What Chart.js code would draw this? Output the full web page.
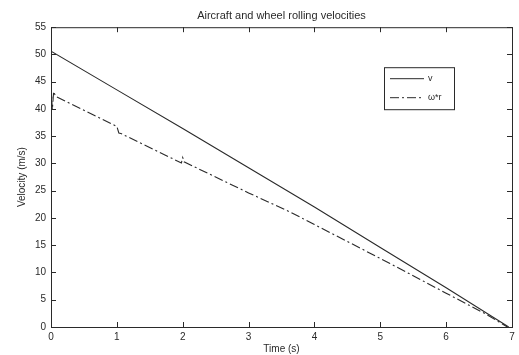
<!DOCTYPE html>
<html lang="en">
<head>
    <meta charset="UTF-8">
    <title>Aircraft and wheel rolling velocities</title>
    <script src="https://cdn.jsdelivr.net/npm/chart.js"></script>
    <style>
        html, body {
            margin: 0;
            padding: 0;
            background-color: white;
        }
        #wrap {
            width: 519px;
            height: 355px;
        }
    </style>
</head>
<body>
    <div id="wrap">
        <canvas id="velChart" width="519" height="355"></canvas>
    </div>

    <script>
        // aircraft velocity v (time s, m/s)
        const vTime = [0, 1, 2, 3, 4, 5, 6, 6.95];
        const vValues = [50.6, 43.5, 36.4, 29.2, 22.0, 14.6, 7.2, 0];

        // wheel rolling velocity w*r (time s, m/s)
        const wrTime = [0, 0.02, 0.04, 0.07, 1.0, 1.03, 1.06, 1.98, 2.0, 2.02, 3.0, 3.63, 4.0, 5.14, 6.0, 6.6, 6.93];
        const wrValues = [44.5, 39.8, 43.2, 42.3, 36.8, 35.6, 35.5, 30.1, 31.1, 30.3, 24.6, 21.1, 18.8, 11.7, 6.2, 2.4, 0];

        const xTicks = [0, 1, 2, 3, 4, 5, 6, 7];
        const yTicks = [0, 5, 10, 15, 20, 25, 30, 35, 40, 45, 50, 55];

        const ink = '#2a2a2a';
        const fontFamily = '"Liberation Sans", Arial, sans-serif';

        const toPoints = (xs, ys) => xs.map((x, i) => ({ x: x, y: ys[i] }));

        // box + inward ticks on all four sides, matlab style
        const boxTicks = {
            id: 'boxTicks',
            afterDraw(chart) {
                const { ctx, chartArea: a, scales } = chart;
                ctx.save();
                ctx.strokeStyle = ink;
                ctx.lineWidth = 1;
                ctx.strokeRect(a.left + 0.5, a.top + 0.5, a.right - a.left, a.bottom - a.top);
                ctx.beginPath();
                xTicks.forEach(t => {
                    const px = Math.round(scales.x.getPixelForValue(t)) + 0.5;
                    ctx.moveTo(px, a.bottom); ctx.lineTo(px, a.bottom - 5);
                    ctx.moveTo(px, a.top); ctx.lineTo(px, a.top + 5);
                });
                yTicks.forEach(t => {
                    const py = Math.round(scales.y.getPixelForValue(t)) + 0.5;
                    ctx.moveTo(a.left, py); ctx.lineTo(a.left + 5, py);
                    ctx.moveTo(a.right, py); ctx.lineTo(a.right - 5, py);
                });
                ctx.stroke();
                ctx.restore();
            }
        };

        // legend box inside the plot, upper right
        const boxLegend = {
            id: 'boxLegend',
            afterDraw(chart) {
                const { ctx, chartArea: a } = chart;
                const left = a.left + 333, top = a.top + 40, w = 70, h = 42;
                ctx.save();
                ctx.fillStyle = 'white';
                ctx.fillRect(left, top, w, h);
                ctx.strokeStyle = ink;
                ctx.lineWidth = 1;
                ctx.strokeRect(left + 0.5, top + 0.5, w, h);
                ctx.font = '9px ' + fontFamily;
                ctx.textBaseline = 'middle';
                chart.data.datasets.forEach((ds, i) => {
                    const y = top + 11.5 + i * 19;
                    ctx.beginPath();
                    ctx.setLineDash(ds.borderDash || []);
                    ctx.moveTo(left + 6, y);
                    ctx.lineTo(left + 40, y);
                    ctx.stroke();
                    ctx.setLineDash([]);
                    ctx.fillStyle = ink;
                    ctx.fillText(ds.label, left + 44, y);
                });
                ctx.restore();
            }
        };

        const ctx = document.getElementById('velChart').getContext('2d');
        new Chart(ctx, {
            type: 'line',
            data: {
                datasets: [{
                    label: 'v',
                    data: toPoints(vTime, vValues),
                    borderColor: ink,
                    borderWidth: 1.1,
                    pointRadius: 0,
                    tension: 0
                }, {
                    label: 'ω*r',
                    data: toPoints(wrTime, wrValues),
                    borderColor: ink,
                    borderWidth: 1.1,
                    borderDash: [9, 3, 2, 3],
                    pointRadius: 0,
                    tension: 0
                }]
            },
            options: {
                responsive: false,
                animation: false,
                layout: { padding: { left: 0, right: 7, top: 0, bottom: 0 } },
                plugins: {
                    legend: { display: false },
                    tooltip: { enabled: false },
                    title: {
                        display: true,
                        fullSize: false,
                        text: 'Aircraft and wheel rolling velocities',
                        color: ink,
                        font: { family: fontFamily, size: 11, weight: 'normal' },
                        padding: { top: 9, bottom: 5 }
                    }
                },
                scales: {
                    x: {
                        type: 'linear',
                        min: 0,
                        max: 7,
                        afterBuildTicks: s => { s.ticks = xTicks.map(v => ({ value: v })); },
                        afterFit: s => { s.height = 28; },
                        grid: { display: false, drawTicks: false },
                        border: { display: false },
                        ticks: {
                            color: ink,
                            padding: 4,
                            font: { family: fontFamily, size: 10 }
                        },
                        title: {
                            display: true,
                            text: 'Time (s)',
                            color: ink,
                            font: { family: fontFamily, size: 10 },
                            padding: 0
                        }
                    },
                    y: {
                        min: 0,
                        max: 55,
                        afterBuildTicks: s => { s.ticks = yTicks.map(v => ({ value: v })); },
                        afterFit: s => { s.width = 51; },
                        grid: { display: false, drawTicks: false },
                        border: { display: false },
                        ticks: {
                            color: ink,
                            padding: 5,
                            font: { family: fontFamily, size: 10 }
                        },
                        title: {
                            display: true,
                            text: 'Velocity (m/s)',
                            color: ink,
                            font: { family: fontFamily, size: 10 },
                            padding: { top: 16, bottom: 0 }
                        }
                    }
                }
            },
            plugins: [boxTicks, boxLegend]
        });
    </script>
</body>
</html>
